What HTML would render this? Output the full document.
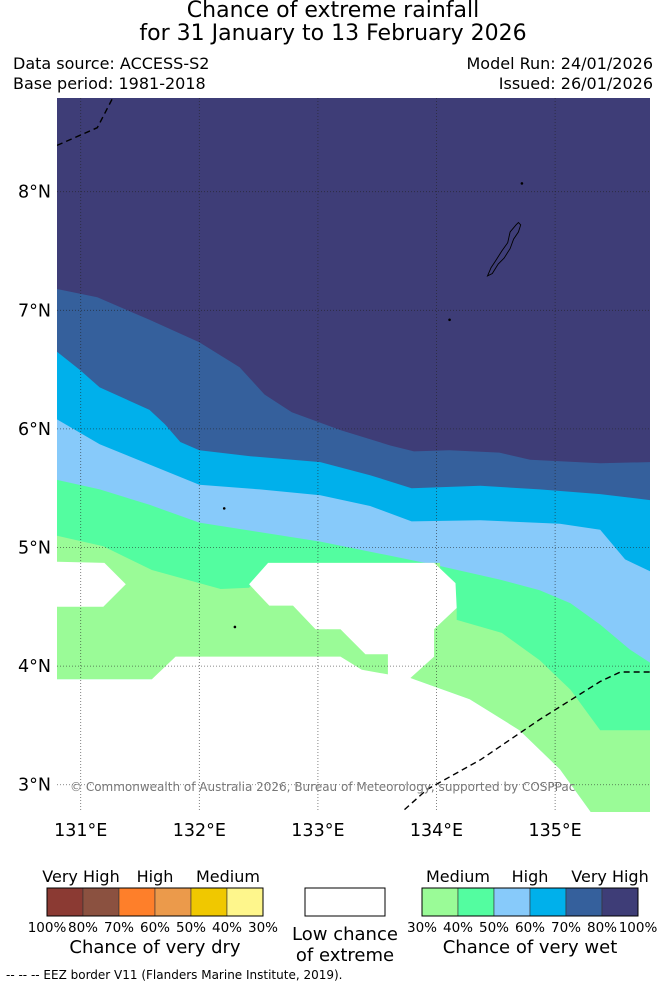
<!DOCTYPE html>
<html><head><meta charset="utf-8"><style>
body{margin:0;background:#fff;width:667px;height:988px;overflow:hidden;font-family:"DejaVu Sans","Liberation Sans",sans-serif;}
svg{position:absolute;left:0;top:0}
</style></head><body>
<svg id="chart" width="667" height="988" xmlns="http://www.w3.org/2000/svg"></svg>
<script>
// axis ticks
const lonTicks=[131,132,133,134,135];
const latTicks=[3,4,5,6,7,8];
// contour boundaries [lon,lat]
const bound80=[[130.80,7.18],[131.14,7.11],[131.58,6.92],[132.00,6.73],[132.34,6.52],[132.55,6.29],[132.78,6.14],[133.19,5.99],[133.61,5.86],[133.81,5.81],[134.11,5.82],[134.53,5.80],[134.79,5.74],[135.38,5.71],[135.80,5.72]];
const bound70=[[130.80,6.65],[130.99,6.50],[131.16,6.35],[131.58,6.16],[131.71,6.04],[131.84,5.89],[132.00,5.82],[132.43,5.77],[133.02,5.72],[133.44,5.61],[133.79,5.50],[134.37,5.52],[134.87,5.49],[135.38,5.45],[135.80,5.40]];
const bound60=[[130.80,6.08],[131.16,5.87],[131.58,5.70],[132.00,5.53],[132.51,5.49],[133.02,5.44],[133.44,5.35],[133.79,5.22],[134.37,5.23],[135.04,5.20],[135.38,5.15],[135.59,4.90],[135.80,4.80]];
const bound50=[[130.80,5.57],[131.16,5.49],[131.58,5.36],[132.00,5.21],[132.51,5.13],[133.02,5.05],[133.61,4.93],[134.00,4.85],[134.53,4.73],[134.87,4.64],[135.13,4.53],[135.38,4.35],[135.63,4.14],[135.80,4.03]];
const lightGreenA=[[130.80,5.10],[131.19,5.01],[131.60,4.81],[132.18,4.65],[132.42,4.66],[132.59,4.87],[134.03,4.87],[134.03,3.89],[130.80,3.89]];
const lightGreenB=[[134.17,4.39],[134.55,4.28],[134.87,4.05],[135.13,3.80],[135.38,3.46],[135.80,3.46],[135.80,2.77],[135.30,2.77],[135.04,3.13],[134.70,3.46],[134.28,3.72],[133.78,3.90],[133.98,4.08],[133.98,4.31],[134.17,4.49]];
const whiteW1=[[130.80,4.88],[131.20,4.87],[131.38,4.69],[131.19,4.50],[130.80,4.50]];
const whiteW2=[[132.58,4.87],[133.98,4.87],[134.16,4.70],[134.17,4.49],[133.98,4.31],[133.98,4.08],[133.78,3.90],[134.28,3.72],[134.70,3.46],[135.04,3.13],[135.30,2.77],[130.80,2.77],[130.80,3.89],[131.15,3.89],[131.60,3.89],[131.80,4.08],[133.19,4.08],[133.37,3.97],[133.59,3.93],[133.59,4.10],[133.40,4.10],[133.19,4.31],[132.98,4.31],[132.79,4.51],[132.59,4.51],[132.42,4.69]];
const eezNW=[[130.80,8.39],[131.14,8.54],[131.27,8.79]];
const eezSE=[[133.73,2.79],[133.92,2.96],[134.37,3.21],[134.87,3.55],[135.38,3.87],[135.55,3.95],[135.80,3.95]];
const palau=[[134.67,7.72],[134.62,7.66],[134.60,7.57],[134.55,7.50],[134.50,7.42],[134.46,7.36],[134.43,7.29],[134.47,7.31],[134.52,7.39],[134.57,7.44],[134.62,7.52],[134.65,7.60],[134.69,7.66],[134.71,7.72],[134.69,7.74]];
const wetColors=["#9afb97","#53fda0","#87cafa","#00b0eb","#35609c","#3e3d77"];
const dryColors=["#8b3a33","#8b5140","#fe7f2a","#eb9a4b","#f0c800","#fef68c"];
const dryLabels=["100%","80%","70%","60%","50%","40%","30%"];
const wetLabels=["30%","40%","50%","60%","70%","80%","100%"];

const X0=57,X1=650,Y0=98,Y1=812,LON0=130.80,LON1=135.80,LAT0=2.77,LAT1=8.79;
const xs=l=>X0+(l-LON0)/(LON1-LON0)*(X1-X0);
const ys=l=>Y1-(l-LAT0)/(LAT1-LAT0)*(Y1-Y0);
const svg=document.getElementById('chart');
const NS="http://www.w3.org/2000/svg";
function mk(tag,attrs,parent){const e=document.createElementNS(NS,tag);for(const k in attrs)e.setAttribute(k,attrs[k]);(parent||svg).appendChild(e);return e;}
function pts(a){return a.map(p=>xs(p[0]).toFixed(1)+","+ys(p[1]).toFixed(1)).join(" ");}
function below(b){return b.concat([[LON1,LAT0],[LON0,LAT0]]);}
function txt(s,x,y,size,anchor,fill){const t=mk('text',{x:x,y:y,'font-size':size,'text-anchor':anchor||'start',fill:fill||'#000'});t.textContent=s;return t;}

const defs=mk('defs',{});const cp=mk('clipPath',{id:'mapclip'},defs);mk('rect',{x:X0,y:Y0,width:X1-X0,height:Y1-Y0},cp);
const g=mk('g',{'clip-path':'url(#mapclip)'});


let r=mk('rect',{x:X0,y:Y0,width:X1-X0,height:Y1-Y0,fill:wetColors[5]},g);


const bands=[[bound80,wetColors[4],'band-70-80'],[bound70,wetColors[3],'band-60-70'],[bound60,wetColors[2],'band-50-60'],[bound50,wetColors[1],'band-40-50']];
bands.forEach(b=>{const p=mk('polygon',{points:pts(below(b[0])),fill:b[1]},g);

});
[[lightGreenA,wetColors[0],'band-30-40-west'],[lightGreenB,wetColors[0],'band-30-40-east'],[whiteW1,'#fff','low-chance-west'],[whiteW2,'#fff','low-chance-south']].forEach(b=>{
const p=mk('polygon',{points:pts(b[0]),fill:b[1]},g);

});
// gridlines
lonTicks.forEach(l=>{const ln=mk('line',{x1:xs(l),x2:xs(l),y1:Y0,y2:Y1,stroke:'#222','stroke-width':0.8,'stroke-dasharray':'1,2','stroke-opacity':0.7},g);

});
latTicks.forEach(l=>{const ln=mk('line',{x1:X0,x2:X1,y1:ys(l),y2:ys(l),stroke:'#222','stroke-width':0.8,'stroke-dasharray':'1,2','stroke-opacity':0.7},g);

});
[eezNW,eezSE].forEach(e=>{const pl=mk('polyline',{points:pts(e),fill:'none',stroke:'#000','stroke-width':1.4,'stroke-dasharray':'6,4'},g);

});
const isl=mk('polygon',{points:pts(palau),fill:'none',stroke:'#000','stroke-width':0.9},g);


[[134.11,6.92],[134.72,8.07],[132.21,5.33],[132.30,4.33]].forEach(p=>{const c=mk('circle',{cx:xs(p[0]),cy:ys(p[1]),r:1.3,fill:'#000'},g);

});
let cr=txt('© Commonwealth of Australia 2026, Bureau of Meteorology, supported by COSPPac',70,791,12,'start','#777');



lonTicks.forEach(l=>{const t=txt(l+'°E',xs(l),836,17.5,'middle');

});
latTicks.forEach(l=>{const t=txt(l+'°N',51,ys(l)+6,17.5,'end');

});

let t;
t=txt('Chance of extreme rainfall',333,17,22,'middle');
t=txt('for 31 January to 13 February 2026',333,40,22,'middle');
t=txt('Data source: ACCESS-S2',13,69,16);
t=txt('Base period: 1981-2018',13,89,16);
t=txt('Model Run: 24/01/2026',653,69,16,'end');
t=txt('Issued: 26/01/2026',653,89,16,'end');

// legends
function legend(x0,colors,labels,name){
 colors.forEach((c,i)=>{const rc=mk('rect',{x:x0+i*36,y:888,width:36,height:28,fill:c,stroke:'#333','stroke-width':0.6});
 
 });
 const o=mk('rect',{x:x0,y:888,width:216,height:28,fill:'none',stroke:'#000','stroke-width':1});
 
 
 labels.forEach((l,i)=>{const tt=txt(l,x0+i*36,932,13.5,'middle');
 
 });
}
legend(47,dryColors,dryLabels,'dry-legend');
legend(422,wetColors,wetLabels,'wet-legend');
[['Very High',81],['High',155],['Medium',228]].forEach(a=>{t=txt(a[0],a[1],882,16,'middle');});
[['Medium',458],['High',530],['Very High',610]].forEach(a=>{t=txt(a[0],a[1],882,16,'middle');});
t=txt('Chance of very dry',155,953,18,'middle');
t=txt('Chance of very wet',530,953,18,'middle');
r=mk('rect',{x:305,y:888,width:80,height:28,fill:'#fff',stroke:'#000','stroke-width':1});
t=txt('Low chance',345,940,18,'middle');
t=txt('of extreme',345,961,18,'middle');
t=txt('--  --  -- EEZ border V11 (Flanders Marine Institute, 2019).',6,979,12);
</script>
</body></html>
